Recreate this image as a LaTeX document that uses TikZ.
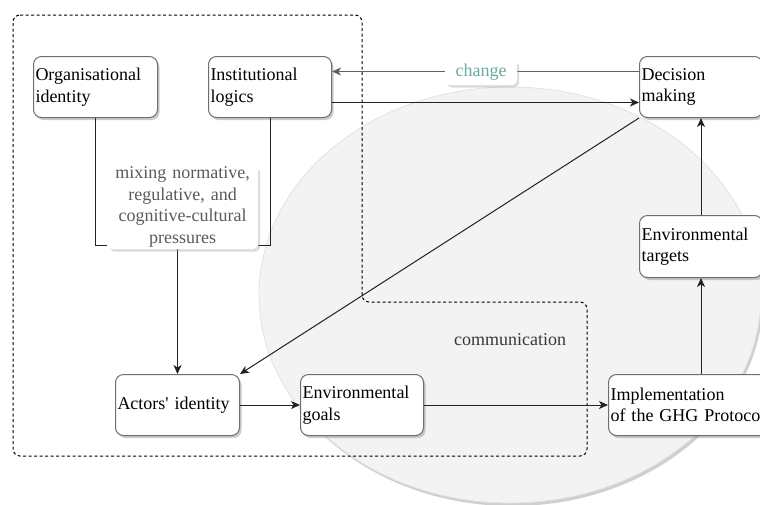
\documentclass[tikz,border=0pt]{standalone}
\usepackage{fontspec}
\setmainfont{Liberation Serif}
\usetikzlibrary{arrows.meta,shadows,calc}
\definecolor{edgegray}{HTML}{222222}
\definecolor{boxborder}{HTML}{6E6E6E}
\definecolor{zonefill}{HTML}{F3F3F3}
\definecolor{zoneline}{HTML}{E2E2E2}
\definecolor{zoneshade}{HTML}{CFCFCF}
\definecolor{changeteal}{HTML}{67AB9F}
\definecolor{mixgray}{HTML}{5A5A5A}
\begin{document}
\begin{tikzpicture}[x=1pt,y=-1pt,
  every node/.style={font=\fontsize{18}{21.5}\selectfont},
  box/.style={draw=boxborder, line width=1pt, fill=white, rounded corners=8pt,
    inner sep=0pt, anchor=north west, align=left,
    drop shadow={shadow xshift=2pt, shadow yshift=-2.5pt, opacity=0.45, fill=black!45}},
  lbl/.style={fill=white, rounded corners=6pt, inner sep=0pt, anchor=north west, align=center,
    drop shadow={shadow xshift=2pt, shadow yshift=-2.5pt, opacity=0.35, fill=black!40}},
  conn/.style={draw=edgegray, line width=1pt},
  arr/.style={conn, -{Stealth[length=9pt,width=8pt,inset=2.5pt]}},
  zone/.style={draw=black, line width=1pt, dash pattern=on 3pt off 2.5pt, rounded corners=7pt}
]
\useasboundingbox (0,0) rectangle (760,504);

% grey shaded area behind the right part of the model
\fill[zoneshade] (512,298) ellipse [x radius=251, y radius=208];
\filldraw[fill=zonefill, draw=zoneline, line width=0.8pt] (510,295) ellipse [x radius=251, y radius=208];

% dashed outline of the organisational/communication field
\draw[zone] (13,15) -- (362,15) -- (362,302) -- (587,302) -- (587,456) -- (13,456) -- cycle;

% boxes
\node[box, minimum width=124pt, minimum height=61pt, text width=120pt] (org) at (33,56) {Organisational\\identity};
\node[box, minimum width=123pt, minimum height=61pt, text width=119pt] (inst) at (208,56) {Institutional\\logics};
\node[box, minimum width=123pt, minimum height=61pt, text width=119pt] (dec) at (639,56) {Decision\\making};
\node[box, minimum width=123pt, minimum height=62pt, text width=119pt] (tgt) at (639,215) {Environmental\\targets};
\node[box, minimum width=186pt, minimum height=61pt, text width=182pt] (impl) at (608,374) {Implementation\\of the GHG Protocol};
\node[box, minimum width=124pt, minimum height=61pt, text width=120pt] (act) at (115,374) {Actors\textquotesingle{} identity};
\node[box, minimum width=123pt, minimum height=61pt, text width=119pt] (goals) at (300,374) {Environmental\\goals};

\node[text=edgegray!90] (comm) at (510,340) {communication};

% connectors
\draw[conn] (org.south) |- ([yshift=4pt]107,249) coordinate (mixw);
\draw[conn] (inst.south) |- ([yshift=4pt]258,249) coordinate (mixe);
\draw[arr] (act.north |- 0,249) coordinate (mixs) -- (act.north);

\node[lbl, minimum width=151pt, minimum height=84pt, text width=151pt, text=mixgray] (mix) at (107,165)
  {mixing normative,\\regulative, and\\cognitive-cultural\\pressures};

\draw[conn, draw=black!62, -{Stealth[length=9pt,width=8pt,inset=2.5pt]}]
  ([yshift=15.5pt]dec.west) -- ([yshift=15.5pt]inst.east);
\node[lbl, minimum width=72pt, minimum height=26pt, text=changeteal] (chg) at (445,59) {change};

\draw[arr] ([yshift=-15.5pt]inst.east) -- ([yshift=-15.5pt]dec.west);
\draw[arr] (dec.south west) -- (act.north east);
\draw[arr] (tgt.north) -- (dec.south);
\draw[arr] (tgt.south |- impl.north) -- (tgt.south);
\draw[arr] (act.east) -- (goals.west);
\draw[arr] (goals.east) -- (impl.west);
\end{tikzpicture}
\end{document}
